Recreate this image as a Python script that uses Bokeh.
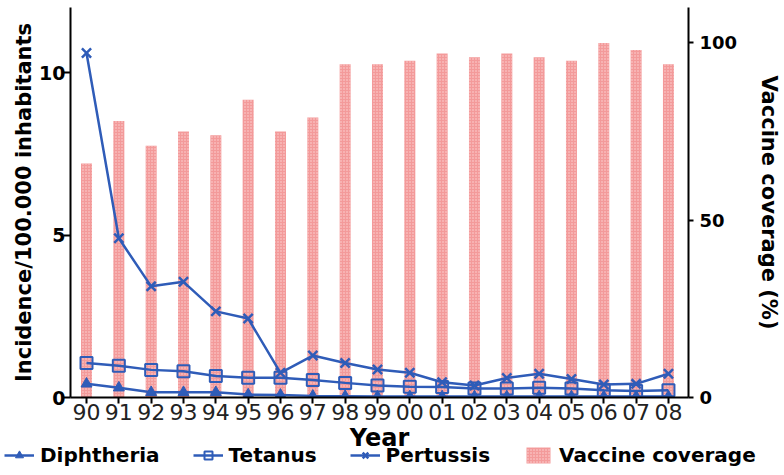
from bokeh.plotting import figure
from bokeh.models import Range1d, LinearAxis, FixedTicker, Legend, LegendItem, Label
from bokeh.layouts import column
from bokeh.embed import file_html
from bokeh.resources import INLINE

years = ["90", "91", "92", "93", "94", "95", "96", "97", "98", "99",
         "00", "01", "02", "03", "04", "05", "06", "07", "08"]
diphtheria = [0.42, 0.30, 0.16, 0.16, 0.16, 0.09, 0.08, 0.05, 0.04, 0.03,
              0.03, 0.03, 0.03, 0.03, 0.03, 0.03, 0.03, 0.03, 0.03]
tetanus = [1.06, 0.98, 0.85, 0.81, 0.66, 0.61, 0.61, 0.54, 0.45, 0.37,
           0.33, 0.32, 0.28, 0.28, 0.30, 0.28, 0.22, 0.20, 0.22]
pertussis = [10.6, 4.9, 3.42, 3.56, 2.65, 2.43, 0.76, 1.29, 1.06, 0.86,
             0.76, 0.47, 0.37, 0.60, 0.73, 0.57, 0.40, 0.42, 0.73]
coverage = [66, 78, 71, 75, 74, 84, 75, 79, 94, 94,
            95, 97, 96, 97, 96, 95, 100, 98, 94]

left_ticks = [0, 5, 10]
right_ticks = [0, 50, 100]

xs = list(range(len(years)))
BLUE = "#2f5cb8"
FONT = "DejaVu Sans"

BAR_STYLE = dict(fill_color="#f39a9a", line_color=None, hatch_pattern="dot",
                 hatch_scale=3, hatch_color="#fcd6d6", hatch_weight=1)
D_STYLE = dict(marker="triangle", size=11, fill_color=BLUE, line_color=BLUE)
T_STYLE = dict(marker="square", size=12, fill_color=None, line_color=BLUE, line_width=2)
P_STYLE = dict(marker="x", size=13, line_color=BLUE, line_width=2.5)


def draw_series(fig, visible=True):
    r = {}
    r["bar"] = fig.vbar(x=xs, top=coverage, width=0.34, y_range_name="cov",
                        visible=visible, **BAR_STYLE)
    r["dl"] = fig.line(xs, diphtheria, line_color=BLUE, line_width=2.5, visible=visible)
    r["dm"] = fig.scatter(xs, diphtheria, visible=visible, **D_STYLE)
    r["tl"] = fig.line(xs, tetanus, line_color=BLUE, line_width=2.5, visible=visible)
    r["tm"] = fig.scatter(xs, tetanus, visible=visible, **T_STYLE)
    r["pl"] = fig.line(xs, pertussis, line_color=BLUE, line_width=2.5, visible=visible)
    r["pm"] = fig.scatter(xs, pertussis, visible=visible, **P_STYLE)
    return r


p = figure(width=784, height=425, output_backend="svg", toolbar_location=None,
           x_range=Range1d(-0.495, 18.62), y_range=Range1d(0, 12),
           min_border_left=70, min_border_right=96, min_border_top=7,
           min_border_bottom=28)
p.outline_line_color = None
p.xgrid.visible = False
p.ygrid.visible = False
p.background_fill_color = "white"
p.extra_y_ranges = {"cov": Range1d(0, 110)}

draw_series(p)

# x axis
xa = p.xaxis[0]
xa.ticker = FixedTicker(ticks=xs)
xa.major_label_overrides = {i: y for i, y in zip(xs, years)}
xa.minor_tick_line_color = None
xa.major_tick_out = 6
xa.major_tick_in = 0
xa.major_tick_line_width = 2
xa.axis_line_width = 2
xa.axis_line_color = "black"
xa.major_tick_line_color = "black"
xa.major_label_standoff = 0
xa.major_label_text_font = FONT
xa.major_label_text_font_size = "22px"
xa.major_label_text_color = "#222222"

# left axis
ya = p.yaxis[0]
ya.ticker = FixedTicker(ticks=left_ticks)
ya.minor_tick_line_color = None
ya.major_tick_out = 7
ya.major_tick_in = 0
ya.major_tick_line_width = 2
ya.axis_line_width = 2
ya.axis_line_color = "black"
ya.major_tick_line_color = "black"
ya.major_label_standoff = -2
ya.major_label_text_font = FONT
ya.major_label_text_font_style = "bold"
ya.major_label_text_font_size = "19px"
ya.major_label_text_color = "black"
ya.axis_label = "Incidence/100.000 inhabitants"
ya.axis_label_text_font = FONT
ya.axis_label_text_font_style = "bold"
ya.axis_label_text_font_size = "21px"
ya.axis_label_text_color = "black"
ya.axis_label_standoff = 0

# right axis
ra = LinearAxis(y_range_name="cov", ticker=FixedTicker(ticks=right_ticks))
ra.minor_tick_line_color = None
ra.major_tick_out = 5
ra.major_tick_in = 0
ra.major_tick_line_width = 2
ra.axis_line_width = 2
ra.axis_line_color = "black"
ra.major_tick_line_color = "black"
ra.major_label_standoff = 6
ra.major_label_text_font = FONT
ra.major_label_text_font_style = "bold"
ra.major_label_text_font_size = "18px"
ra.major_label_text_color = "black"
ra.axis_label = "Vaccine coverage (%)"
ra.axis_label_text_font = FONT
ra.axis_label_text_font_style = "bold"
ra.axis_label_text_font_size = "21px"
ra.axis_label_text_color = "black"
ra.axis_label_standoff = 17
p.add_layout(ra, "right")

# bottom strip: x-axis title and legend (hidden copies of the series feed the legend)
q = figure(width=784, height=50, output_backend="svg", toolbar_location=None,
           x_range=Range1d(0, 784), y_range=Range1d(0, 50),
           x_axis_location=None, y_axis_location=None, min_border=0)
if "frame_align" in q.properties():
    q.frame_align = False
    p.frame_align = False
q.outline_line_color = None
q.xgrid.visible = False
q.ygrid.visible = False
q.extra_y_ranges = {"cov": Range1d(0, 110)}

h = draw_series(q, visible=False)

q.add_layout(Label(x=379, y=38, text="Year", text_align="center",
                   text_baseline="alphabetic", text_font=FONT,
                   text_font_style="bold", text_font_size="24px",
                   text_color="black"))

legend = Legend(items=[
    LegendItem(label="Diphtheria", renderers=[h["dl"], h["dm"]], index=0),
    LegendItem(label="Tetanus", renderers=[h["tl"], h["tm"]], index=0),
    LegendItem(label="Pertussis", renderers=[h["pl"], h["pm"]], index=0),
    LegendItem(label="Vaccine coverage", renderers=[h["bar"]], index=0),
], location=(4, 8), orientation="horizontal",
    glyph_width=30, glyph_height=20, label_standoff=6, spacing=33,
    padding=0, margin=0, border_line_color=None, background_fill_alpha=0,
    inactive_fill_alpha=0, click_policy="none",
    label_text_font=FONT, label_text_font_style="bold",
    label_text_font_size="20px", label_text_color="black")
q.add_layout(legend, "center")

open("out.html", "w").write(file_html(column(p, q, spacing=0), INLINE))
